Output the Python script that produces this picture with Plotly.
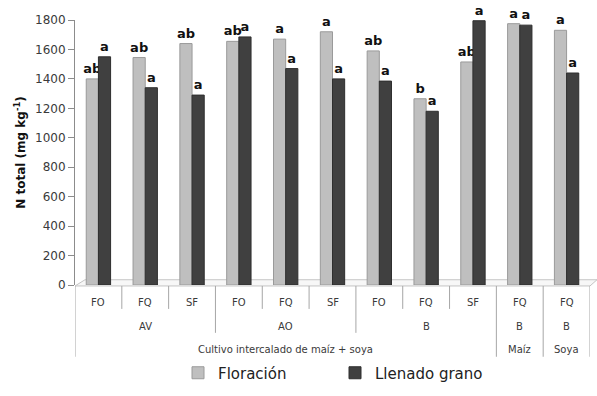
import plotly.graph_objects as go

# Treatments (three-level category labels) and total N values
tratamiento = ["FO", "FQ", "SF", "FO", "FQ", "SF", "FO", "FQ", "SF", "FQ", "FQ"]
localidad = ["AV", "AO", "B", "B", "B"]
localidad_span = [(0, 2), (3, 5), (6, 8), (9, 9), (10, 10)]
cultivo = ["Cultivo intercalado de maíz + soya", "Maíz", "Soya"]
cultivo_span = [(0, 8), (9, 9), (10, 10)]

floracion = [1400, 1545, 1640, 1655, 1670, 1720, 1590, 1265, 1515, 1775, 1730]
llenado = [1550, 1340, 1290, 1685, 1470, 1400, 1385, 1180, 1795, 1765, 1440]
letras_floracion = ["ab", "ab", "ab", "ab", "a", "a", "ab", "b", "ab", "a", "a"]
letras_llenado = ["a"] * 11

y_ticks = list(range(0, 1801, 200))

W, H = 597, 396
ML, MR, MT, MB = 75, 7, 20, 99
PW, PH = W - ML - MR, H - MT - MB

FONT = "DejaVu Sans"
TXT = "#3a3a3a"
LINE = "#a6a6a6"

x = list(range(len(tratamiento)))


def px(xp):
    return (xp - ML) / PW


def py(yp):
    return (H - MB - yp) / PH


fig = go.Figure()
fig.add_trace(go.Bar(
    x=x, y=floracion, name="Floración",
    marker=dict(color="#bfbfbf", line=dict(color="#9a9a9a", width=1)),
    text=letras_floracion, textposition="outside", constraintext="none",
    textfont=dict(family=FONT, size=13, color="#111111", weight="bold"),
    cliponaxis=False,
))
fig.add_trace(go.Bar(
    x=x, y=llenado, name="Llenado grano",
    marker=dict(color="#404040", line=dict(color="#2e2e2e", width=1)),
    text=letras_llenado, textposition="outside", constraintext="none",
    textfont=dict(family=FONT, size=13, color="#111111", weight="bold"),
    cliponaxis=False,
))

shapes = []
# floor of the chart
shapes.append(dict(
    type="path", xref="paper", yref="paper", layer="below",
    path=f"M {px(75)},{py(298)} L {px(85)},{py(291.5)} L {px(597)},{py(291.5)} L {px(590)},{py(298)} Z",
    fillcolor="#f7f7f7", line=dict(color="#c4c4c4", width=1),
))

# separators of the category table
n = len(tratamiento)
lvl2_bounds = set()
for a, b in localidad_span:
    lvl2_bounds.add(a - 0.5)
    lvl2_bounds.add(b + 0.5)
lvl3_bounds = set()
for a, b in cultivo_span:
    lvl3_bounds.add(a - 0.5)
    lvl3_bounds.add(b + 0.5)
for i in range(n + 1):
    xb = i - 0.5
    if xb in lvl3_bounds:
        bottom = 372
    elif xb in lvl2_bounds:
        bottom = 347
    else:
        bottom = 322
    shapes.append(dict(type="line", xref="x", yref="paper", x0=xb, x1=xb,
                       y0=py(298), y1=py(bottom), line=dict(color=LINE, width=1)))

annotations = []
for i, t in enumerate(tratamiento):
    annotations.append(dict(x=i, y=py(315), xref="x", yref="paper", text=t,
                            showarrow=False, font=dict(family=FONT, size=10, color=TXT),
                            yanchor="middle"))
for lab, (a, b) in zip(localidad, localidad_span):
    annotations.append(dict(x=(a + b) / 2, y=py(340), xref="x", yref="paper", text=lab,
                            showarrow=False, font=dict(family=FONT, size=10, color=TXT),
                            yanchor="middle"))
for lab, (a, b) in zip(cultivo, cultivo_span):
    annotations.append(dict(x=(a + b) / 2, y=py(364), xref="x", yref="paper", text=lab,
                            showarrow=False, font=dict(family=FONT, size=10, color=TXT),
                            yanchor="middle"))

fig.update_layout(
    width=W, height=H,
    margin=dict(l=ML, r=MR, t=MT, b=MB),
    paper_bgcolor="white", plot_bgcolor="white",
    barmode="group", bargap=0.48, bargroupgap=0,
    showlegend=True,
    legend=dict(orientation="h", x=px(178), xanchor="left", y=py(389), yanchor="middle",
                font=dict(family=FONT, size=15, color="#222222"),
                itemclick=False, tracegroupgap=0, itemwidth=30,
                entrywidth=112, entrywidthmode="pixels"),
    xaxis=dict(range=[-0.5, n - 0.5], showticklabels=False, showgrid=False,
               zeroline=False, showline=False, ticks=""),
    yaxis=dict(range=[0, 1800], tickvals=y_ticks, showgrid=False, zeroline=False,
               showline=True, linecolor="#8c8c8c", linewidth=1,
               ticks="outside", ticklen=6, tickcolor="#8c8c8c",
               tickfont=dict(family=FONT, size=12, color=TXT),
               title=dict(text="<b>N total (mg kg<sup>-1</sup>)</b>", standoff=6,
                          font=dict(family=FONT, size=12, color="#111111"))),
    shapes=shapes,
    annotations=annotations,
)

fig.write_html("out.html")
